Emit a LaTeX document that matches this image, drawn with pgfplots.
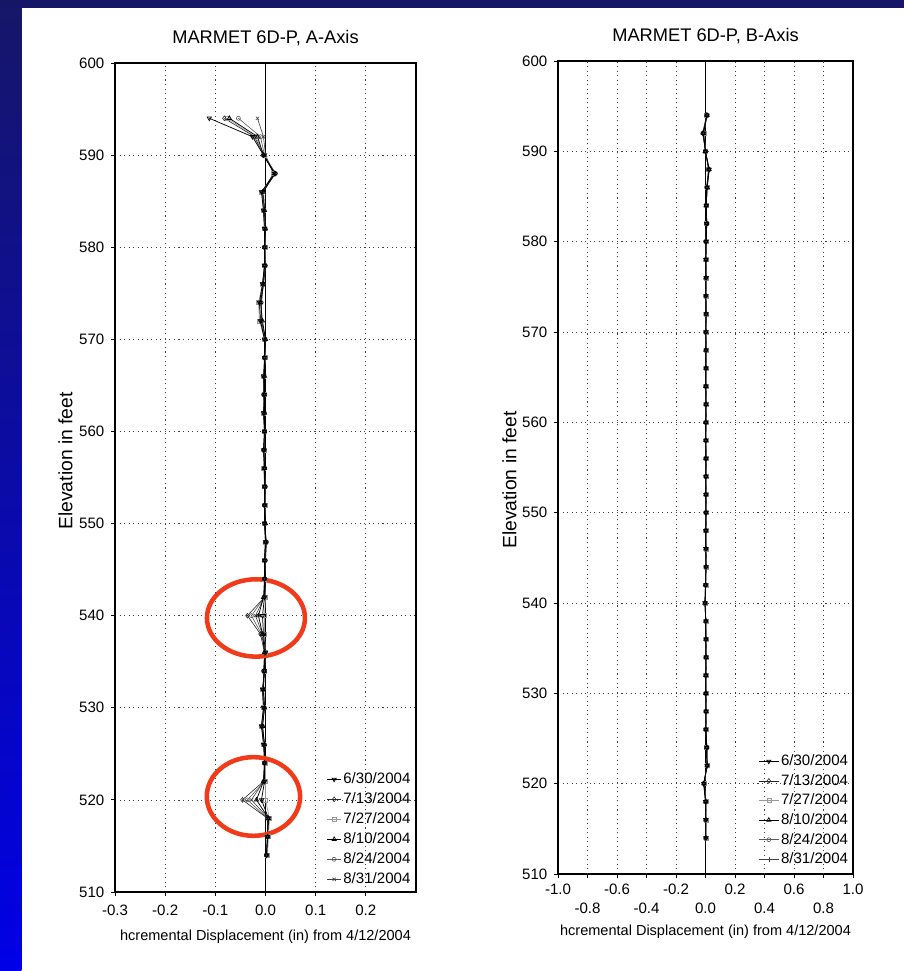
\documentclass[border=0pt]{standalone}
\usepackage{fontspec}
\setmainfont{Liberation Sans}
\usepackage{pgfplots}
\pgfplotsset{compat=1.18}
\usepackage{pgfplotstable}

\definecolor{navy}{RGB}{22,22,105}
\definecolor{brightblue}{RGB}{0,0,230}
\definecolor{circ}{RGB}{240,58,25}

\pgfplotstableread{
e s1 s2 s3 s4 s5 s6
594 -0.112 -0.082 -0.076 -0.072 -0.054 -0.016
592 -0.026 -0.022 -0.020 -0.016 -0.010 -0.004
590 -0.004 -0.004 -0.002 -0.004 -0.002 0.000
588 0.018 0.020 0.016 0.018 0.020 0.016
586 -0.008 -0.006 -0.008 -0.004 -0.006 -0.006
584 -0.004 -0.002 -0.004 -0.002 -0.004 -0.002
582 -0.002 0.000 -0.002 0.000 -0.002 0.000
580 -0.002 -0.002 0.000 -0.002 0.000 -0.002
578 -0.002 0.000 -0.002 -0.002 0.000 -0.002
576 -0.006 -0.004 -0.006 -0.004 -0.004 -0.006
574 -0.012 -0.008 -0.014 -0.010 -0.012 -0.008
572 -0.010 -0.008 -0.012 -0.006 -0.010 -0.008
570 -0.002 0.000 -0.002 0.000 -0.002 0.000
568 -0.002 -0.002 0.000 -0.002 0.000 -0.002
566 -0.004 -0.002 -0.004 -0.002 -0.004 -0.002
564 -0.002 -0.004 -0.002 -0.002 -0.004 -0.002
562 -0.004 -0.002 -0.004 -0.002 -0.002 -0.004
560 -0.002 -0.002 -0.002 -0.002 -0.002 -0.002
558 -0.004 -0.002 -0.002 -0.004 -0.002 -0.002
556 -0.002 -0.002 -0.004 -0.002 -0.002 -0.002
554 -0.002 0.000 -0.002 -0.002 0.000 -0.002
552 -0.002 -0.002 0.000 -0.002 -0.002 0.000
550 -0.002 -0.002 -0.002 0.000 -0.002 -0.002
548 0.000 0.002 0.000 0.000 0.002 0.000
546 -0.002 0.000 -0.002 -0.002 0.000 -0.002
544 -0.002 -0.002 -0.002 -0.002 -0.002 -0.002
542 -0.002 -0.002 0.000 -0.004 -0.002 -0.002
540 -0.006 -0.036 -0.002 -0.014 -0.028 -0.020
538 -0.004 -0.010 -0.002 -0.006 -0.008 -0.006
536 0.000 -0.002 0.000 -0.002 0.000 -0.002
534 -0.002 -0.004 -0.002 -0.002 -0.004 -0.002
532 -0.006 -0.004 -0.006 -0.004 -0.004 -0.006
530 -0.004 -0.002 -0.004 -0.002 -0.002 -0.004
528 -0.008 -0.006 -0.008 -0.006 -0.006 -0.008
526 -0.004 -0.002 -0.004 -0.002 -0.002 -0.002
524 -0.002 -0.002 0.000 -0.002 -0.002 -0.002
522 -0.002 -0.004 0.000 -0.004 -0.002 -0.004
520 -0.008 -0.046 0.000 -0.018 -0.036 -0.028
518 0.006 0.004 0.008 0.006 0.004 0.006
516 0.004 0.004 0.006 0.004 0.004 0.004
514 0.002 0.002 0.004 0.002 0.002 0.002
}\dataA

\pgfplotstableread{
e s1 s2 s3 s4 s5 s6
594 0.010 0.008 0.005 0.010 0.012 0.008
592 -0.015 -0.020 -0.010 -0.015 -0.012 -0.018
590 0.000 0.002 0.000 -0.002 0.000 0.000
588 0.025 0.020 0.022 0.025 0.020 0.022
586 0.010 0.008 0.010 0.012 0.008 0.010
584 0.005 0.004 0.006 0.004 0.005 0.006
582 0.008 0.010 0.006 0.008 0.010 0.008
580 0.004 0.002 0.004 0.004 0.002 0.004
578 0.002 0.004 0.002 0.002 0.004 0.002
576 0.004 0.002 0.004 0.002 0.004 0.002
574 0.002 0.002 0.004 0.002 0.002 0.004
572 0.004 0.004 0.002 0.004 0.002 0.004
570 0.002 0.002 0.002 0.004 0.002 0.002
568 0.004 0.002 0.004 0.002 0.004 0.002
566 0.002 0.004 0.002 0.002 0.004 0.002
564 0.002 0.002 0.004 0.002 0.002 0.004
562 0.004 0.002 0.002 0.004 0.002 0.002
560 0.002 0.004 0.002 0.002 0.004 0.002
558 0.002 0.002 0.002 0.002 0.002 0.002
556 0.004 0.002 0.004 0.002 0.002 0.004
554 0.002 0.002 0.002 0.004 0.002 0.002
552 0.002 0.004 0.002 0.002 0.004 0.002
550 0.004 0.002 0.002 0.004 0.002 0.002
548 0.002 0.002 0.004 0.002 0.002 0.004
546 0.002 0.004 0.002 0.002 0.004 0.002
544 0.004 0.002 0.002 0.004 0.002 0.002
542 0.000 0.002 0.002 0.000 0.002 0.000
540 -0.004 -0.002 0.000 -0.004 -0.002 -0.004
538 0.002 0.002 0.004 0.002 0.002 0.002
536 0.002 0.004 0.002 0.002 0.004 0.002
534 0.004 0.002 0.002 0.004 0.002 0.002
532 0.002 0.002 0.004 0.002 0.002 0.004
530 0.002 0.004 0.002 0.002 0.004 0.002
528 0.004 0.002 0.002 0.004 0.002 0.002
526 0.002 0.002 0.004 0.002 0.002 0.004
524 0.008 0.010 0.008 0.008 0.010 0.008
522 0.010 0.012 0.010 0.010 0.012 0.010
520 -0.012 -0.010 -0.008 -0.012 -0.010 -0.010
518 0.000 0.004 0.002 0.000 0.004 0.002
516 0.002 0.002 0.004 0.002 0.002 0.002
514 0.002 0.002 0.002 0.002 0.002 0.002
}\dataB

\pgfplotsset{
  common/.style={
    scale only axis,
    ymin=510, ymax=600, ytick={510,520,...,600},
    grid=major,
    grid style={black!75, line width=0.55pt, dash pattern=on 0.8pt off 2.6pt},
    axis line style={line width=0.8pt},
    tick align=outside, xtick pos=bottom, ytick pos=left,
    major tick length=3pt,
    tick style={black, line width=0.6pt},
    tick label style={font=\fontsize{11.3}{13}\selectfont},
    yticklabel style={xshift=-1.5pt},
    /pgf/number format/assume math mode=true,
    xlabel style={font=\fontsize{10.9}{13}\selectfont},
    ylabel style={font=\fontsize{14.5}{16}\selectfont},
    ylabel={Elevation in feet},
    xlabel={hcremental Displacement (in) from 4/12/2004},
    title style={font=\fontsize{13.7}{15}\selectfont, at={(axis description cs:0.5,1)}, anchor=center, yshift=12.75pt},
    legend style={draw=none, fill=none, font=\fontsize{11.3}{13}\selectfont,
      at={(axis description cs:1,0)}, anchor=south east, row sep=2pt, inner sep=1pt,
      nodes={inner sep=1.5pt}},
    legend cell align=left,
  },
  s1/.style={black, line width=0.55pt, mark=triangle, mark size=1.8pt, mark options={rotate=180, solid, fill=white}},
  s2/.style={black!85, line width=0.45pt, mark=diamond, mark size=1.8pt, mark options={solid, fill=white}},
  s3/.style={black!40, line width=0.45pt, mark=square, mark size=1.5pt, mark options={solid, fill=white}},
  s4/.style={black, line width=0.55pt, mark=triangle, mark size=1.8pt, mark options={solid, fill=white}},
  s5/.style={black!65, line width=0.45pt, mark=o, mark size=1.5pt, mark options={solid, fill=white}},
  s6/.style={black!75, line width=0.45pt, mark=x, mark size=1.7pt, mark options={solid}},
}

\begin{document}
\begin{tikzpicture}
\useasboundingbox (0,0) rectangle (678pt,728.25pt);
\fill[white] (0,0) rectangle (678pt,728.25pt);
\shade[top color=navy, bottom color=brightblue] (0,0) rectangle (16pt,728.25pt);
\fill[navy] (0,722.25pt) rectangle (678pt,728.25pt);

% ---------- A-axis ----------
\begin{axis}[common,
  at={(86.25pt,59.25pt)}, anchor=south west,
  width=225.75pt, height=621.75pt,
  xmin=-0.3, xmax=0.3,
  xtick={-0.3,-0.2,-0.1,0,0.1,0.2},
  xticklabels={-0.3,-0.2,-0.1,0.0,0.1,0.2},
  xticklabel style={yshift=-3pt},
  title={MARMET 6D-P, A-Axis},
  xlabel style={at={(axis description cs:0.5,0)}, anchor=center, yshift=-33.5pt},
  ylabel style={at={(axis description cs:-0.1645,0.52)}, anchor=center},
  legend style={xshift=-1.5pt, yshift=2pt, row sep=2.3pt},
  legend image code/.code={\draw[mark repeat=2, mark phase=2] plot coordinates {(0cm,0cm) (0.18cm,0cm) (0.36cm,0cm)};},
]
\addplot[black, line width=0.8pt, forget plot] coordinates {(0,510) (0,600)};
\addplot[s3, forget plot] table[x=s3, y=e] {\dataA};
\addplot[s5, forget plot] table[x=s5, y=e] {\dataA};
\addplot[s2, forget plot] table[x=s2, y=e] {\dataA};
\addplot[s6, forget plot] table[x=s6, y=e] {\dataA};
\addplot[s4, forget plot] table[x=s4, y=e] {\dataA};
\addplot[s1, forget plot] table[x=s1, y=e] {\dataA};
\addlegendimage{s1}\addlegendentry{6/30/2004}
\addlegendimage{s2}\addlegendentry{7/13/2004}
\addlegendimage{s3}\addlegendentry{7/27/2004}
\addlegendimage{s4}\addlegendentry{8/10/2004}
\addlegendimage{s5}\addlegendentry{8/24/2004}
\addlegendimage{s6}\addlegendentry{8/31/2004}
\draw[circ, line width=3.4pt] (axis cs:-0.019,539.75) ellipse [x radius=36.75pt, y radius=29pt];
\draw[circ, line width=3.4pt] (axis cs:-0.024,520.37) ellipse [x radius=35pt, y radius=29.5pt];
\end{axis}

% ---------- B-axis ----------
\begin{axis}[common,
  at={(418.5pt,72.75pt)}, anchor=south west,
  width=221.25pt, height=609.75pt,
  xmin=-1, xmax=1,
  xtick={-1,-0.6,-0.2,0.2,0.6,1},
  xticklabels={-1.0,-0.6,-0.2,0.2,0.6,1.0},
  xticklabel style={yshift=-1pt},
  extra x ticks={-0.8,-0.4,0,0.4,0.8},
  extra x tick labels={-0.8,-0.4,0.0,0.4,0.8},
  extra x tick style={grid=major, xticklabel style={yshift=-14.5pt}},
  title={MARMET 6D-P, B-Axis},
  xlabel style={at={(axis description cs:0.5,0)}, anchor=center, yshift=-43.5pt},
  ylabel style={at={(axis description cs:-0.1645,0.4846)}, anchor=center},
  legend style={xshift=-1pt, yshift=3.5pt},
  legend image code/.code={\draw[mark repeat=2, mark phase=2] plot coordinates {(0cm,0cm) (0.26cm,0cm) (0.52cm,0cm)};},
]
\addplot[black, line width=0.8pt, forget plot] coordinates {(0,510) (0,600)};
\addplot[s3, mark=square, forget plot] table[x=s3, y=e] {\dataB};
\addplot[s5, forget plot] table[x=s5, y=e] {\dataB};
\addplot[s2, forget plot] table[x=s2, y=e] {\dataB};
\addplot[s6, mark=+, forget plot] table[x=s6, y=e] {\dataB};
\addplot[s4, forget plot] table[x=s4, y=e] {\dataB};
\addplot[s1, forget plot] table[x=s1, y=e] {\dataB};
\addlegendimage{s1}\addlegendentry{6/30/2004}
\addlegendimage{s2}\addlegendentry{7/13/2004}
\addlegendimage{s3}\addlegendentry{7/27/2004}
\addlegendimage{s4}\addlegendentry{8/10/2004}
\addlegendimage{s5}\addlegendentry{8/24/2004}
\addlegendimage{s6, mark=+}\addlegendentry{8/31/2004}
\end{axis}
\end{tikzpicture}
\end{document}
